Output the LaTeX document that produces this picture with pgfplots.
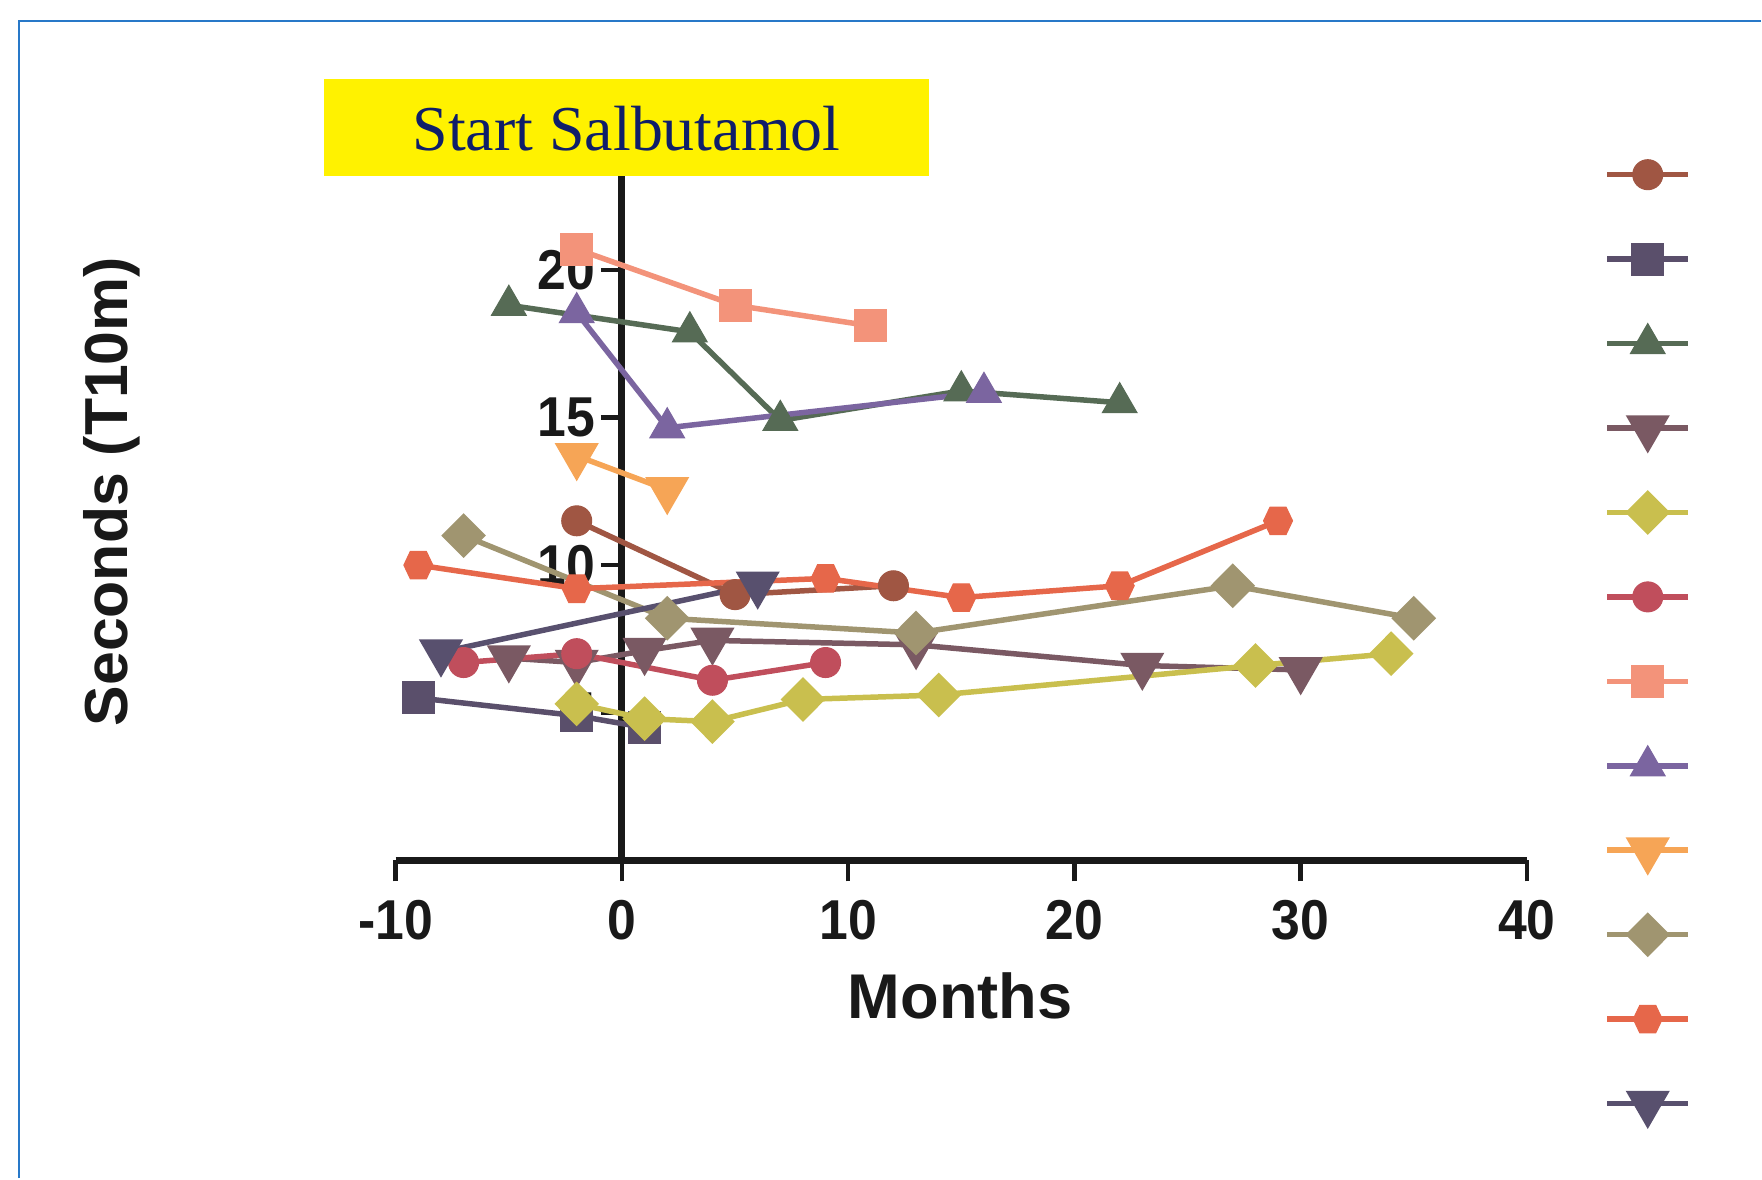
\documentclass[border=0pt]{standalone}
\usepackage{pgfplots}
\pgfplotsset{compat=1.18}
\usepackage{fontspec}
\setmainfont{Liberation Sans}
\newfontfamily\serifbox{Liberation Serif}
\newfontfamily\tickfont[FakeStretch=0.92]{Liberation Sans}
\usetikzlibrary{plotmarks}
\definecolor{framec}{RGB}{40,120,200}
\definecolor{navytext}{RGB}{15,30,105}
\definecolor{cA}{RGB}{160,86,67}
\definecolor{cB}{RGB}{90,79,107}
\definecolor{cC}{RGB}{86,107,85}
\definecolor{cD}{RGB}{122,89,99}
\definecolor{cE}{RGB}{201,191,78}
\definecolor{cF}{RGB}{192,78,92}
\definecolor{cG}{RGB}{243,147,122}
\definecolor{cH}{RGB}{123,101,160}
\definecolor{cI}{RGB}{246,165,86}
\definecolor{cJ}{RGB}{160,149,112}
\definecolor{cK}{RGB}{230,103,74}
\definecolor{cL}{RGB}{88,80,110}
\pgfdeclareplotmark{hex*}{%
  \pgfpathmoveto{\pgfqpoint{-\pgfplotmarksize}{0pt}}%
  \pgfpathlineto{\pgfqpoint{-0.55\pgfplotmarksize}{0.95\pgfplotmarksize}}%
  \pgfpathlineto{\pgfqpoint{0.55\pgfplotmarksize}{0.95\pgfplotmarksize}}%
  \pgfpathlineto{\pgfqpoint{\pgfplotmarksize}{0pt}}%
  \pgfpathlineto{\pgfqpoint{0.55\pgfplotmarksize}{-0.95\pgfplotmarksize}}%
  \pgfpathlineto{\pgfqpoint{-0.55\pgfplotmarksize}{-0.95\pgfplotmarksize}}%
  \pgfpathclose
  \pgfusepathqfillstroke}
\pgfplotsset{
  ser/.style={color=#1, line width=0.55mm, mark options={solid, fill=#1, draw=#1, line width=0.3pt}},
}
\begin{document}
\begin{tikzpicture}
\path (0,0) rectangle (176.2mm,117.9mm);
\draw[framec, line width=0.25mm] (1.9mm,0) -- (1.9mm,115.8mm) -- (176.2mm,115.8mm);
\begin{axis}[
  at={(39.6mm,31.8mm)}, anchor=south west,
  scale only axis, width=113.2mm, height=73.875mm,
  xmin=-10, xmax=40, ymin=0, ymax=25,
  axis x line=bottom, axis y line=center,
  hide obscured x ticks=false, hide obscured y ticks=false,
  axis line style={-, line width=0.7mm, black!90},
  xtick={-10,0,10,20,30,40}, ytick={5,10,15,20},
  tick align=outside, xtick align=outside, ytick align=outside,
  major tick length=2.1mm,
  tick style={line width=0.45mm, black!90},
  /pgf/number format/assume math mode=true,
  ticklabel style={font=\tickfont\bfseries\fontsize{16}{16}\selectfont, text=black!90},
  xticklabel style={yshift=-0.6mm},
  yticklabel style={inner sep=0.5mm},
  clip=false,
  set layers,
  legend style={at={(1.068,0.987)}, anchor=north west, draw=none, fill=none, inner sep=0pt, row sep=0pt,
    nodes={inner sep=0pt, text height=4.225mm, text depth=4.225mm}},
  legend cell align=left,
  legend image code/.code={\draw[mark repeat=2,mark phase=2] plot coordinates {(0mm,0mm) (4.05mm,0mm) (8.1mm,0mm)};},
]
\addplot[ser=cA, mark=*, mark size=1.5mm] coordinates {(-2,11.5) (5,9.0) (12,9.3)};
\addlegendentry{}
\addplot[ser=cB, mark=square*, mark size=1.6mm] coordinates {(-9,5.5) (-2,4.9) (1,4.5)};
\addlegendentry{}
\addplot[ser=cC, mark=triangle*, mark size=2.0mm] coordinates {(-5,18.8) (3,17.9) (7,14.9) (15,15.9) (22,15.5)};
\addlegendentry{}
\addplot[ser=cD, mark=triangle*, mark size=2.0mm, mark options={rotate=180}] coordinates {(-5,6.85) (-2,6.7) (1,7.1) (4,7.45) (13,7.3) (23,6.6) (30,6.45)};
\addlegendentry{}
\addplot[ser=cE, mark=diamond*, mark size=1.85mm, mark options={xscale=1.33}] coordinates {(-2,5.3) (1,4.8) (4,4.7) (8,5.45) (14,5.6) (28,6.6) (34,7.0)};
\addlegendentry{}
\addplot[ser=cF, mark=*, mark size=1.5mm] coordinates {(-7,6.7) (-2,7.0) (4,6.1) (9,6.7)};
\addlegendentry{}
\addplot[ser=cG, mark=square*, mark size=1.6mm] coordinates {(-2,20.7) (5,18.8) (11,18.1)};
\addlegendentry{}
\addplot[ser=cH, mark=triangle*, mark size=2.0mm] coordinates {(-2,18.55) (2,14.65) (16,15.85)};
\addlegendentry{}
\addplot[ser=cI, mark=triangle*, mark size=2.0mm, mark options={rotate=180}] coordinates {(-2,13.7) (2,12.55)};
\addlegendentry{}
\addplot[ser=cJ, mark=diamond*, mark size=1.85mm, mark options={xscale=1.33}] coordinates {(-7,11.0) (2,8.2) (13,7.7) (27,9.3) (35,8.2)};
\addlegendentry{}
\addplot[ser=cK, mark=hex*, mark size=1.45mm] coordinates {(-9,10.0) (-2,9.2) (9,9.55) (15,8.9) (22,9.3) (29,11.5)};
\addlegendentry{}
\addplot[ser=cL, mark=triangle*, mark size=2.0mm, mark options={rotate=180}] coordinates {(-8,7.05) (6,9.35)};
\addlegendentry{}
\end{axis}
\fill[yellow] (32.4mm,100.3mm) rectangle (93.0mm,110.0mm);
\node[text=navytext, font=\serifbox\fontsize{18.2}{18.2}\selectfont] at (62.7mm,105.0mm) {Start Salbutamol};
\node[font=\bfseries\fontsize{18}{18}\selectfont, text=black!90] at (96.1mm,18.2mm) {Months};
\node[font=\bfseries\fontsize{17.3}{17.3}\selectfont, text=black!90, rotate=90] at (11.2mm,68.7mm) {Seconds (T10m)};
\end{tikzpicture}
\end{document}
